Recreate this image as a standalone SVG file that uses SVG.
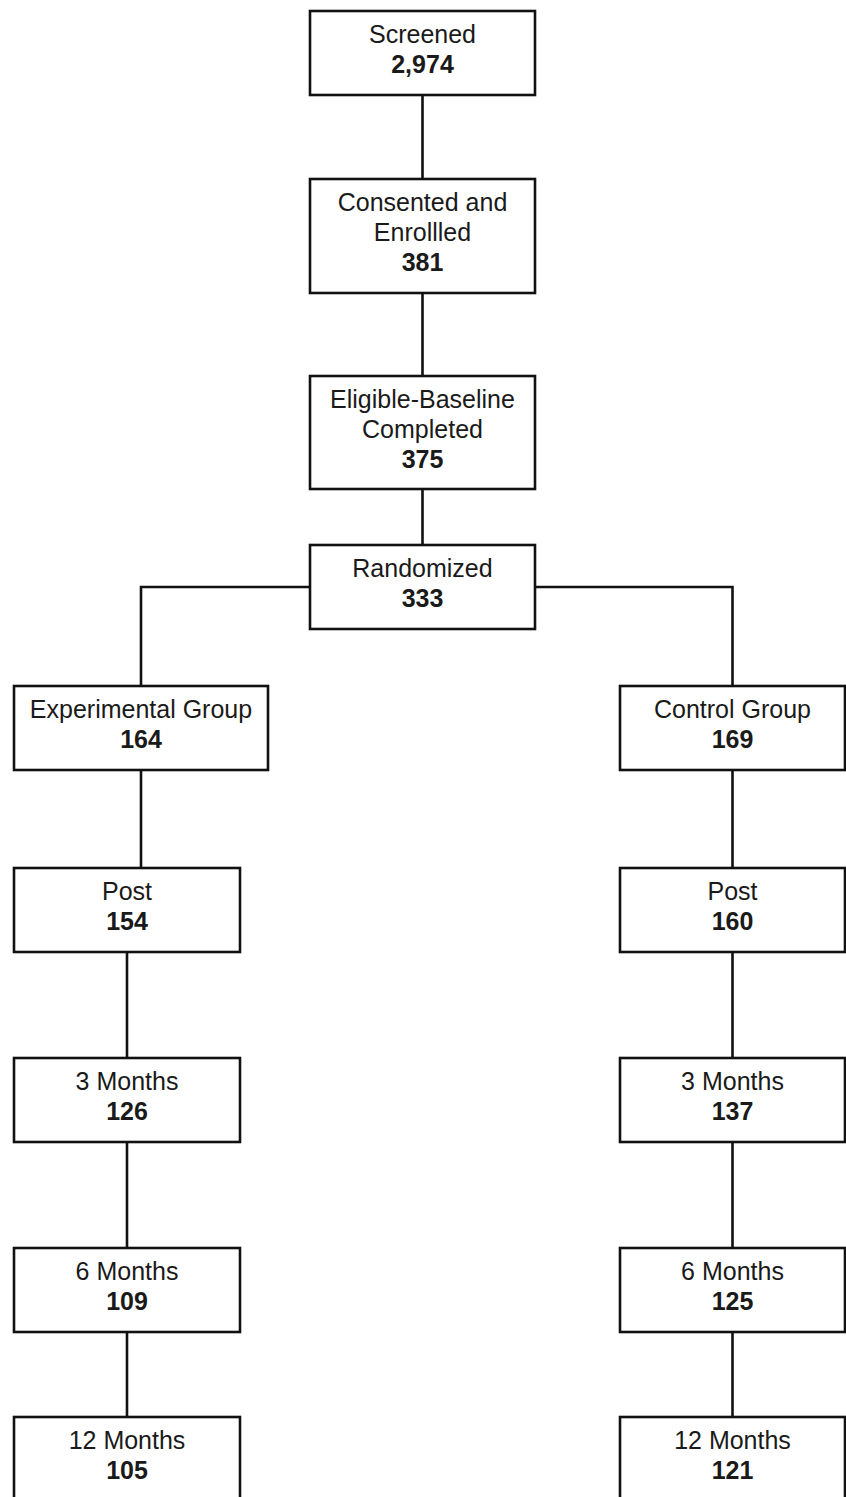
<svg xmlns="http://www.w3.org/2000/svg" width="846" height="1497" viewBox="0 0 846 1497">
<style>
.box{fill:#ffffff;stroke:#111111;stroke-width:2.6}
.ln{fill:none;stroke:#111111;stroke-width:2.6}
text{font-family:"Liberation Sans",Arial,sans-serif;font-size:25px;fill:#1a1a1a;text-anchor:middle}
.b{font-weight:bold}
</style>
<rect width="846" height="1497" fill="#ffffff"/>
<g id="connectors">
<path class="ln" d="M422.5 95V179M422.5 293V376M422.5 489V545"/>
<path class="ln" d="M310 587H141V686M535 587H732.5V686"/>
<path class="ln" d="M141 770V868M127 952V1058M127 1142V1248M127 1332V1417"/>
<path class="ln" d="M732.5 770V868M732.5 952V1058M732.5 1142V1248M732.5 1332V1417"/>
</g>
<g id="screened"><rect class="box" x="310" y="11" width="225" height="84"/><text x="422.5" y="43">Screened</text><text class="b" x="422.5" y="73">2,974</text></g>
<g id="consented"><rect class="box" x="310" y="179" width="225" height="114"/><text x="422.5" y="211">Consented and</text><text x="422.5" y="241">Enrollled</text><text class="b" x="422.5" y="271">381</text></g>
<g id="eligible"><rect class="box" x="310" y="376" width="225" height="113"/><text x="422.5" y="407.5">Eligible-Baseline</text><text x="422.5" y="437.5">Completed</text><text class="b" x="422.5" y="467.5">375</text></g>
<g id="randomized"><rect class="box" x="310" y="545" width="225" height="84"/><text x="422.5" y="577">Randomized</text><text class="b" x="422.5" y="607">333</text></g>
<g id="experimental"><rect class="box" x="14" y="686" width="254" height="84"/><text x="141" y="718">Experimental Group</text><text class="b" x="141" y="748">164</text></g>
<g id="control"><rect class="box" x="620" y="686" width="225" height="84"/><text x="732.5" y="718">Control Group</text><text class="b" x="732.5" y="748">169</text></g>
<g id="exp-post"><rect class="box" x="14" y="868" width="226" height="84"/><text x="127" y="900">Post</text><text class="b" x="127" y="930">154</text></g>
<g id="ctl-post"><rect class="box" x="620" y="868" width="225" height="84"/><text x="732.5" y="900">Post</text><text class="b" x="732.5" y="930">160</text></g>
<g id="exp-3m"><rect class="box" x="14" y="1058" width="226" height="84"/><text x="127" y="1090">3 Months</text><text class="b" x="127" y="1120">126</text></g>
<g id="ctl-3m"><rect class="box" x="620" y="1058" width="225" height="84"/><text x="732.5" y="1090">3 Months</text><text class="b" x="732.5" y="1120">137</text></g>
<g id="exp-6m"><rect class="box" x="14" y="1248" width="226" height="84"/><text x="127" y="1280">6 Months</text><text class="b" x="127" y="1310">109</text></g>
<g id="ctl-6m"><rect class="box" x="620" y="1248" width="225" height="84"/><text x="732.5" y="1280">6 Months</text><text class="b" x="732.5" y="1310">125</text></g>
<g id="exp-12m"><rect class="box" x="14" y="1417" width="226" height="84"/><text x="127" y="1449">12 Months</text><text class="b" x="127" y="1479">105</text></g>
<g id="ctl-12m"><rect class="box" x="620" y="1417" width="225" height="84"/><text x="732.5" y="1449">12 Months</text><text class="b" x="732.5" y="1479">121</text></g>
</svg>
